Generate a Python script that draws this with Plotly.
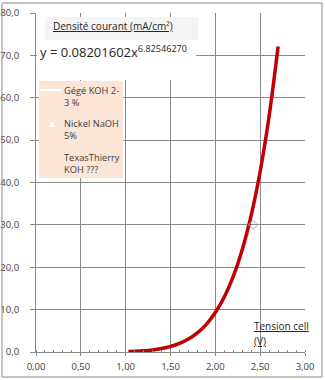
import plotly.graph_objects as go

# ---- data ----
curve_x = [1.03, 1.10, 1.20, 1.30, 1.40, 1.50, 1.60, 1.70, 1.80, 1.90, 2.00, 2.10, 2.20, 2.30, 2.40, 2.50, 2.60, 2.70]
curve_y = [0.10, 0.16, 0.29, 0.49, 0.82, 1.30, 2.03, 3.07, 4.53, 6.53, 9.30, 12.97, 17.83, 24.14, 32.27, 42.6, 55.7, 72.1]
point_x = [2.42]
point_y = [30.0]
x_ticks = [0, 0.5, 1.0, 1.5, 2.0, 2.5, 3.0]
x_labels = ["0,00", "0,50", "1,00", "1,50", "2,00", "2,50", "3,00"]
y_ticks = [0, 10, 20, 30, 40, 50, 60, 70, 80]
y_labels = ["0,0", "10,0", "20,0", "30,0", "40,0", "50,0", "60,0", "70,0", "80,0"]
legend_names = ["Gégé KOH 2-<br>3 %", "Nickel NaOH<br>5%", "TexasThierry<br>KOH ???"]
equation = "y = 0.08201602x<sup>6.82546270</sup>"
y_title = "Densité courant (mA/cm²)"
x_title = ["Tension cell", "(V)"]

W, H = 325, 380
L, R, T, B = 36, 305, 13, 352  # plot area in pixels


def px(x):
    return (x - L) / (R - L)


def py(y):
    return (B - y) / (B - T)


FONT = "Open Sans"
fig = go.Figure()
fig.add_trace(go.Scatter(x=curve_x, y=curve_y, mode="lines", line=dict(color="#c00000", width=3.5, shape="spline"),
                         showlegend=False, hoverinfo="skip"))
fig.add_trace(go.Scatter(x=point_x, y=point_y, mode="markers",
                         marker=dict(symbol="diamond-open", size=7, color="#8fb0d8", line=dict(width=1)),
                         showlegend=False))

shapes = []
# outer chart border
shapes.append(dict(type="rect", xref="paper", yref="paper", x0=px(2), x1=px(322), y0=py(3), y1=py(377),
                   line=dict(color="#8c8c8c", width=1), fillcolor="rgba(0,0,0,0)", layer="above"))
# white box behind the equation + title
shapes.append(dict(type="rect", xref="paper", yref="paper", x0=px(37), x1=px(196), y0=py(17), y1=py(80),
                   line=dict(width=0), fillcolor="white", layer="above"))
shapes.append(dict(type="rect", xref="paper", yref="paper", x0=px(45), x1=px(198), y0=py(17), y1=py(40),
                   line=dict(width=0), fillcolor="#f4f4f4", layer="above"))
# legend box
shapes.append(dict(type="rect", xref="paper", yref="paper", x0=px(39), x1=px(123), y0=py(81), y1=py(178),
                   line=dict(width=0), fillcolor="#fbe5d6", layer="above"))
# legend line sample
shapes.append(dict(type="line", xref="paper", yref="paper", x0=px(40), x1=px(61), y0=py(90), y1=py(90),
                   line=dict(color="white", width=2), layer="above"))

annotations = []
annotations.append(dict(text="<u>" + y_title + "</u>", xref="paper", yref="paper", x=px(51), y=py(26),
                        xanchor="left", yanchor="middle", showarrow=False,
                        font=dict(family=FONT, size=10, color="#262626")))
annotations.append(dict(text=equation, xref="paper", yref="paper", x=px(38), y=py(51),
                        xanchor="left", yanchor="middle", showarrow=False,
                        font=dict(family=FONT, size=13, color="#262626")))
leg_y = [96, 129, 163]
for name, yy in zip(legend_names, leg_y):
    annotations.append(dict(text=name, xref="paper", yref="paper", x=px(62), y=py(yy),
                            xanchor="left", yanchor="middle", showarrow=False, align="left",
                            font=dict(family=FONT, size=9.3, color="#404040")))
annotations.append(dict(text="▲", xref="paper", yref="paper", x=px(52), y=py(123),
                        xanchor="center", yanchor="middle", showarrow=False,
                        font=dict(family="DejaVu Sans", size=8, color="white")))
annotations.append(dict(text="<u>" + x_title[0] + "</u>", xref="paper", yref="paper", x=px(252), y=py(326),
                        xanchor="left", yanchor="middle", showarrow=False,
                        font=dict(family=FONT, size=10, color="#262626")))
annotations.append(dict(text="<u>" + x_title[1] + "</u>", xref="paper", yref="paper", x=px(252), y=py(341),
                        xanchor="left", yanchor="middle", showarrow=False,
                        font=dict(family=FONT, size=10, color="#262626")))

GRID = "#8a8a8a"
fig.update_layout(
    width=W, height=H,
    margin=dict(l=L, r=W - R, t=T, b=H - B, autoexpand=False),
    paper_bgcolor="white", plot_bgcolor="white",
    showlegend=False,
    shapes=shapes, annotations=annotations,
    font=dict(family=FONT, size=10, color="#404040"),
    xaxis=dict(range=[0, 3], tickvals=x_ticks, ticktext=x_labels, showgrid=True, gridcolor=GRID, gridwidth=1,
               showline=True, linecolor=GRID, linewidth=1, ticks="outside", ticklen=3, tickcolor=GRID,
               zeroline=False, fixedrange=True, ticklabelstandoff=3, automargin=False,
               minor=dict(dtick=0.1, ticks="inside", ticklen=2, tickcolor=GRID, showgrid=False),
               tickfont=dict(family=FONT, size=9.5, color="#404040")),
    yaxis=dict(range=[0, 80], tickvals=y_ticks, ticktext=y_labels, showgrid=True, gridcolor=GRID, gridwidth=1,
               showline=True, linecolor=GRID, linewidth=1, ticks="outside", ticklen=5, tickcolor=GRID,
               zeroline=False, fixedrange=True, ticklabelstandoff=9, automargin=False,
               tickfont=dict(family=FONT, size=9.5, color="#404040")),
)

fig.write_html("out.html")
